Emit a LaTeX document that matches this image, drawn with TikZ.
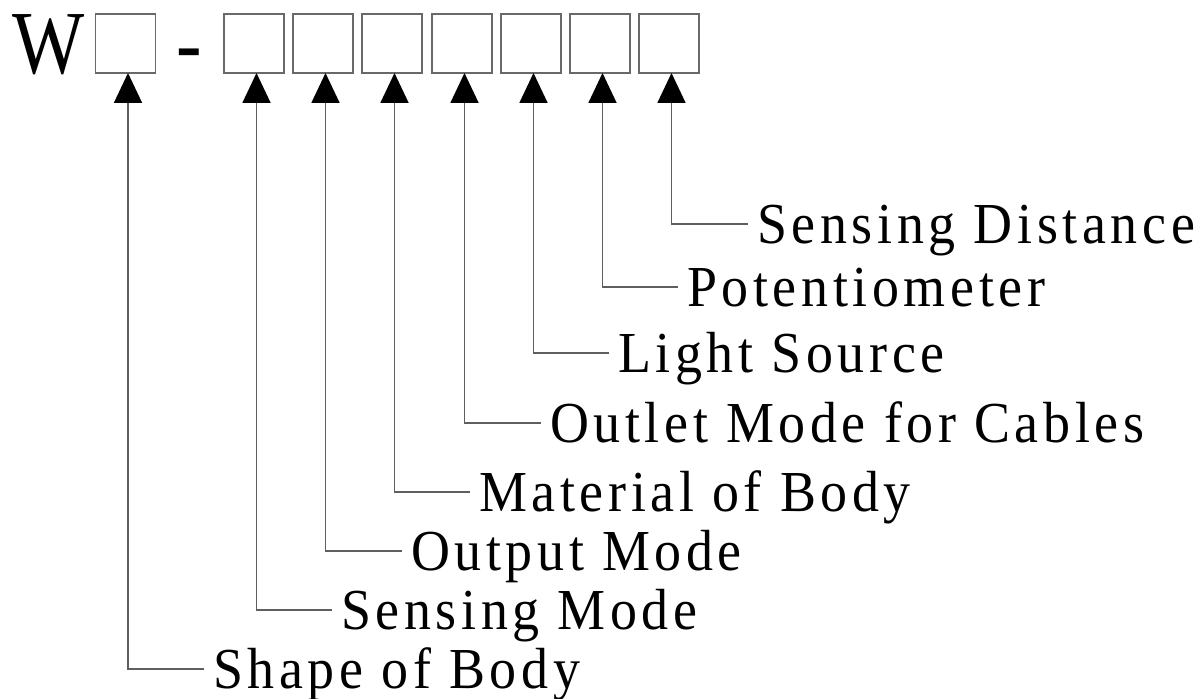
\documentclass[tikz,border=0pt]{standalone}
\usepackage{fontspec}
\usetikzlibrary{arrows.meta}
\newfontfamily\lblfont[FakeStretch=0.93,LetterSpace=8]{Liberation Serif}
\newfontfamily\bigfont[FakeStretch=0.85]{Liberation Serif}
\definecolor{linegray}{RGB}{95,95,95}
\definecolor{boxgray}{RGB}{105,105,105}
\begin{document}
\begin{tikzpicture}[x=0.5pt,y=-0.5pt,
  box/.style={draw=boxgray, line width=0.9pt, minimum width=30pt, minimum height=29.5pt, inner sep=0pt, outer sep=0pt},
  lbl/.style={anchor=west, inner xsep=4.5pt, inner ysep=0pt, outer sep=0pt, text height=19.2pt, text depth=0pt, font=\lblfont\fontsize{29}{31}\selectfont},
  big/.style={anchor=base, inner sep=0pt, font=\bigfont\fontsize{45}{48}\selectfont},
  conn/.style={draw=linegray, line width=0.9pt, {Triangle[length=15pt,width=14pt,color=black]}-}
]
\useasboundingbox (0,0) rectangle (1200,699);
\node[big] (w) at (49,74) {W};
\node[big] (dash) at (189,74) {-};
\node[box] (b1) at (125.5,43.5) {};
\node[box] (b2) at (254,43.5) {};
\node[box] (b3) at (323,43.5) {};
\node[box] (b4) at (392,43.5) {};
\node[box] (b5) at (462,43.5) {};
\node[box] (b6) at (531,43.5) {};
\node[box] (b7) at (600,43.5) {};
\node[box] (b8) at (669,43.5) {};
% labels
\node[lbl] (l1) at (204,669) {Shape of Body};
\node[lbl] (l2) at (332,610) {Sensing Mode};
\node[lbl] (l3) at (402,551) {Output Mode};
\node[lbl] (l4) at (470,492) {Material of Body};
\node[lbl] (l5) at (541,423) {Outlet Mode for Cables};
\node[lbl] (l6) at (609,353) {Light Source};
\node[lbl] (l7) at (678,287) {Potentiometer};
\node[lbl] (l8) at (748,224) {Sensing Distance};
% connectors
\foreach \i in {1,...,8}{
  \draw[conn] ([xshift=1.25pt]b\i.south) |- (l\i.west);
}
\end{tikzpicture}
\end{document}
